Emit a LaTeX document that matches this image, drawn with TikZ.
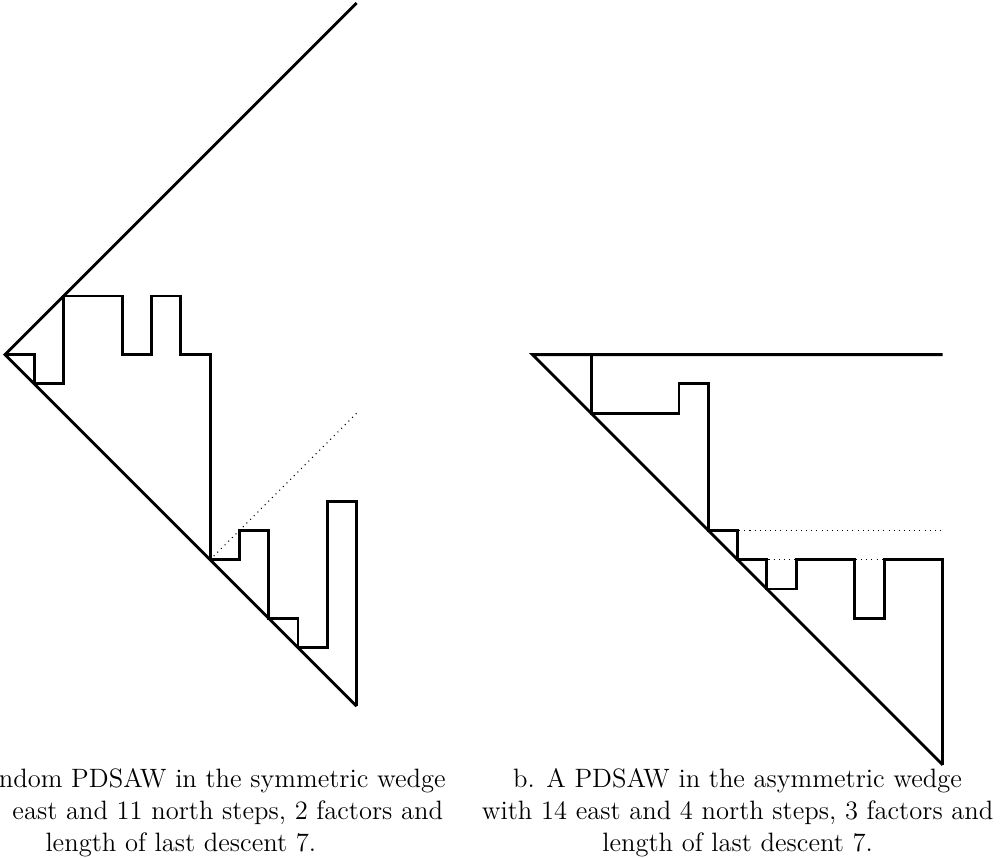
\documentclass[tikz,border=0pt]{standalone}
\usepackage{fontspec}
\begin{document}
\begin{tikzpicture}[x=0.5cm,y=0.5cm,
    walk/.style={line width=1.4pt},
    guide/.style={dotted, line width=0.5pt},
    caption/.style={inner sep=0pt, anchor=base, font=\fontsize{12.9pt}{15.5pt}\selectfont}]
        \useasboundingbox (-0.17,-17.15) rectangle (34.16,12.1);
        % symmetric wedge
        \draw[walk] (12,12) -- (0,0) -- (12,-12);
        \draw[walk] (0,0) -- (1,0) -- (1,-1) -- (2,-1) -- (2,2) -- (4,2) -- (4,0) -- (5,0) -- (5,2) -- (6,2) -- (6,0) -- (7,0) -- (7,-7) -- (8,-7) -- (8,-6) -- (9,-6) -- (9,-9) -- (10,-9) -- (10,-10) -- (11,-10) -- (11,-5) -- (12,-5) -- (12,-12);
        \draw[guide] (7,-7) -- (12,-2);
        \node[caption] (capa1) at (6,-14.78) {\phantom{a. A ra}ndom PDSAW in the symmetric wedge};
        \node[caption] (capa2) at (6,-15.87) {\phantom{with 12} east and 11 north steps, 2 factors and};
        \node[caption] (capa3) at (6,-16.96) {length of last descent 7.};
        % asymmetric wedge
        \draw[walk] (32,0) -- (18,0) -- (32,-14);
        \draw[walk] (18,0) -- (20,0) -- (20,-2) -- (23,-2) -- (23,-1) -- (24,-1) -- (24,-6) -- (25,-6) -- (25,-7) -- (26,-7) -- (26,-8) -- (27,-8) -- (27,-7) -- (29,-7) -- (29,-9) -- (30,-9) -- (30,-7) -- (32,-7) -- (32,-14);
        \draw[guide] (24,-6) -- (32,-6);
        \draw[guide] (25,-7) -- (32,-7);
        \node[caption] (capb1) at (25,-14.78) {b. A PDSAW in the asymmetric wedge};
        \node[caption] (capb2) at (25,-15.87) {with 14 east and 4 north steps, 3 factors and};
        \node[caption] (capb3) at (25,-16.96) {length of last descent 7.};
\end{tikzpicture}
\end{document}
